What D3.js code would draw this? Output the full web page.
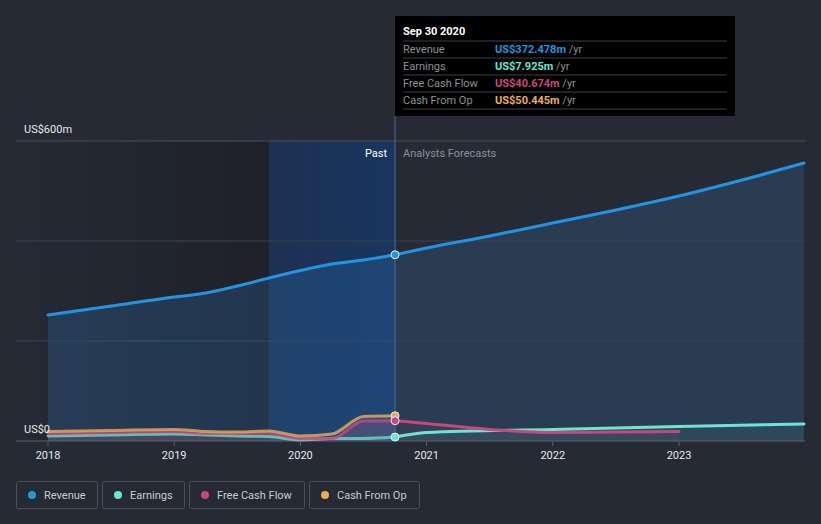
<!DOCTYPE html>
<html><head><meta charset="utf-8">
<script src="https://cdn.jsdelivr.net/npm/d3@7"></script>
<style>
body{margin:0;background:#262a35;font-family:Roboto,"Open Sans",sans-serif;}
svg{display:block}
</style></head>
<body><svg id="c" width="821" height="524"></svg>
<script>
// ---- data (values in US$ millions, dates as fractional years) ----
const revenueT = [2018.0, 2018.5, 2019.0, 2019.25, 2019.5, 2019.75, 2020.0, 2020.25, 2020.5, 2020.75];
const revenueV = [252, 270, 288, 296, 310, 326, 341, 354, 362, 372.478];
const revenueFT = [2020.75, 2021.0, 2021.5, 2022.0, 2022.5, 2023.0, 2023.5, 2023.99];
const revenueFV = [372.478, 386, 410, 436, 462, 490, 522, 556];

const earningsT = [2018.0, 2018.5, 2019.0, 2019.25, 2019.5, 2019.75, 2020.0, 2020.25, 2020.5, 2020.75];
const earningsV = [10, 12, 14, 12, 10, 9, 2, 5, 5, 7.925];
const earningsFT = [2020.75, 2021.0, 2022.0, 2023.0, 2023.99];
const earningsFV = [7.925, 17, 23, 29, 34];

const fcfT = [2018.0, 2018.5, 2019.0, 2019.25, 2019.5, 2019.75, 2020.0, 2020.25, 2020.5, 2020.75];
const fcfV = [15, 17, 19, 15, 15, 16, 5, 5, 40, 40.674];
const fcfFT = [2020.75, 2021.0, 2021.5, 2022.0, 2022.5, 2023.0];
const fcfFV = [40.674, 35, 23, 17, 18, 19];

const cfoT = [2018.0, 2018.5, 2019.0, 2019.25, 2019.5, 2019.75, 2020.0, 2020.25, 2020.5, 2020.75];
const cfoV = [19, 21, 23, 19, 18, 20, 10, 14, 49, 50.445];

const xTicks = [2018, 2019, 2020, 2021, 2022, 2023];
const yLabels = [{v: 600, t: "US$600m"}, {v: 0, t: "US$0"}];
const gridVals = [600, 400, 200];
const tipDate = "Sep 30 2020";
const tipRows = [
  {name: "Revenue", val: "US$372.478m", color: "#2394df"},
  {name: "Earnings", val: "US$7.925m", color: "#6ce5d2"},
  {name: "Free Cash Flow", val: "US$40.674m", color: "#c9467f"},
  {name: "Cash From Op", val: "US$50.445m", color: "#e8ad58"}
];
const pastStart = 2019.75, nowT = 2020.75;

// ---- scales ----
const W = 821, H = 524;
const x = d3.scaleLinear().domain([2018, 2023]).range([48, 679]);
const y = d3.scaleLinear().domain([0, 600]).range([441, 141]);
const left = 16, right = 805;

const svg = d3.select("#c");
const defs = svg.append("defs");

const gDark = defs.append("linearGradient").attr("id", "gDark").attr("x1", 0).attr("x2", 1).attr("y1", 0).attr("y2", 0);
gDark.append("stop").attr("offset", 0).attr("stop-color", "#1a1d22").attr("stop-opacity", 0.0);
gDark.append("stop").attr("offset", 1).attr("stop-color", "#1a1d22").attr("stop-opacity", 0.7);
const gBlue = defs.append("linearGradient").attr("id", "gBlue").attr("x1", 0).attr("x2", 1).attr("y1", 0).attr("y2", 0);
gBlue.append("stop").attr("offset", 0).attr("stop-color", "#15366a").attr("stop-opacity", 0.55);
gBlue.append("stop").attr("offset", 1).attr("stop-color", "#153a6e").attr("stop-opacity", 0.75);

// past shading
svg.append("rect").attr("x", left).attr("y", y(600)).attr("width", x(pastStart) - left).attr("height", y(0) - y(600)).attr("fill", "url(#gDark)");
svg.append("rect").attr("x", x(pastStart)).attr("y", y(600)).attr("width", x(nowT) - x(pastStart)).attr("height", y(0) - y(600)).attr("fill", "url(#gBlue)");

// grid
svg.selectAll(".grid").data(gridVals).enter().append("line")
  .attr("x1", left).attr("x2", right).attr("y1", d => y(d)).attr("y2", d => y(d))
  .attr("stroke", d => d === 600 ? "#4a505c" : "#3a4150").attr("stroke-width", 1);

const zip = (t, v) => t.map((d, i) => [d, v[i]]);
const curve = d3.curveMonotoneX;
const line = d3.line().x(d => x(d[0])).y(d => y(d[1])).curve(curve);
const area = d3.area().x(d => x(d[0])).y0(y(0)).y1(d => y(d[1])).curve(curve);

const rev = zip(revenueT, revenueV), revF = zip(revenueFT, revenueFV);
const ear = zip(earningsT, earningsV), earF = zip(earningsFT, earningsFV);
const fcf = zip(fcfT, fcfV), fcfF = zip(fcfFT, fcfFV);
const cfo = zip(cfoT, cfoV);

// areas
svg.append("path").datum(rev).attr("d", area).attr("fill", "#2a6fb0").attr("fill-opacity", 0.28);
svg.append("path").datum(revF).attr("d", area).attr("fill", "#2b4a68").attr("fill-opacity", 0.55);
svg.append("path").datum(cfo).attr("d", area).attr("fill", "#8a8a8a").attr("fill-opacity", 0.18);
svg.append("path").datum(fcf).attr("d", area).attr("fill", "#a0507a").attr("fill-opacity", 0.18);
svg.append("path").datum(fcfF).attr("d", area).attr("fill", "#7a4a70").attr("fill-opacity", 0.15);
svg.append("path").datum(earF).attr("d", area).attr("fill", "#3fa8a0").attr("fill-opacity", 0.12);

// baseline axis
svg.append("line").attr("x1", left).attr("x2", right).attr("y1", y(0)).attr("y2", y(0)).attr("stroke", "#5a606b").attr("stroke-width", 1);

// lines
const drawLine = (data, color, op) => svg.append("path").datum(data).attr("d", line)
  .attr("fill", "none").attr("stroke", color).attr("stroke-width", 3).attr("stroke-opacity", op || 1).attr("stroke-linecap", "round");
drawLine(ear, "#6ce5d2", 0.75);
drawLine(fcf, "#c9467f", 0.8);
drawLine(cfo, "#e8ad58", 0.8);
drawLine(earF, "#6ce5d2");
drawLine(fcfF, "#c9467f");
drawLine(rev, "#2394df");
drawLine(revF, "#2394df");

// vertical now line
svg.append("line").attr("x1", x(nowT)).attr("x2", x(nowT)).attr("y1", 116).attr("y2", y(0))
  .attr("stroke", "#4f6e96").attr("stroke-width", 1);

// markers
const marks = [[revenueV[revenueV.length - 1], "#2394df"], [cfoV[cfoV.length - 1], "#e8ad58"], [fcfV[fcfV.length - 1], "#c9467f"], [earningsV[earningsV.length - 1], "#6ce5d2"]];
svg.selectAll(".mk").data(marks).enter().append("circle")
  .attr("cx", x(nowT)).attr("cy", d => y(d[0])).attr("r", 4)
  .attr("fill", d => d[1]).attr("stroke", "#e8eef5").attr("stroke-width", 1);

// x axis ticks & labels
svg.selectAll(".xt").data(xTicks).enter().append("line")
  .attr("x1", d => x(d)).attr("x2", d => x(d)).attr("y1", y(0)).attr("y2", y(0) + 5).attr("stroke", "#5a606b");
svg.selectAll(".xl").data(xTicks).enter().append("text")
  .attr("x", d => x(d)).attr("y", 459).attr("text-anchor", "middle")
  .attr("fill", "#e6e8ec").attr("font-size", 11).text(d => d);

// y labels
svg.selectAll(".yl").data(yLabels).enter().append("text")
  .attr("x", 24).attr("y", d => y(d.v) - 8).attr("fill", "#e6e8ec").attr("font-size", 11).text(d => d.t);

// Past / Forecast labels
svg.append("text").attr("x", x(nowT) - 8).attr("y", 157).attr("text-anchor", "end").attr("fill", "#ffffff").attr("font-size", 11).text("Past");
svg.append("text").attr("x", x(nowT) + 8).attr("y", 157).attr("fill", "#8b9099").attr("font-size", 11).text("Analysts Forecasts");

// tooltip
const tip = svg.append("g").attr("transform", "translate(395,16)");
tip.append("rect").attr("width", 340).attr("height", 100).attr("fill", "#000000");
tip.append("text").attr("x", 8).attr("y", 19).attr("fill", "#ffffff").attr("font-size", 11).attr("font-weight", "bold").text(tipDate);
tipRows.forEach((r, i) => {
  const yy = 25 + i * 17;
  tip.append("line").attr("x1", 8).attr("x2", 332).attr("y1", yy).attr("y2", yy).attr("stroke", "#3c3f45");
  const t = tip.append("text").attr("x", 8).attr("y", yy + 12).attr("fill", "#8c9097").attr("font-size", 11).text(r.name);
  const v = tip.append("text").attr("x", 100).attr("y", yy + 12).attr("font-size", 11);
  v.append("tspan").attr("fill", r.color).attr("font-weight", "bold").text(r.val);
  v.append("tspan").attr("fill", "#8c9097").text(" /yr");
});
tip.append("line").attr("x1", 8).attr("x2", 332).attr("y1", 93).attr("y2", 93).attr("stroke", "#3c3f45");

// legend
const legendItems = [
  {name: "Revenue", color: "#2394df", x: 16, w: 81},
  {name: "Earnings", color: "#6ce5d2", x: 102, w: 82},
  {name: "Free Cash Flow", color: "#c9467f", x: 189, w: 115},
  {name: "Cash From Op", color: "#e8ad58", x: 309, w: 110}
];
const lg = svg.selectAll(".lg").data(legendItems).enter().append("g").attr("transform", d => `translate(${d.x},481)`);
lg.append("rect").attr("x", 0.5).attr("y", 0.5).attr("width", d => d.w).attr("height", 27).attr("rx", 2)
  .attr("fill", "none").attr("stroke", "#4a4f5a");
lg.append("circle").attr("cx", 16).attr("cy", 14).attr("r", 4).attr("fill", d => d.color);
lg.append("text").attr("x", 28).attr("y", 18).attr("fill", "#c9ccd2").attr("font-size", 11).text(d => d.name);
</script></body></html>
